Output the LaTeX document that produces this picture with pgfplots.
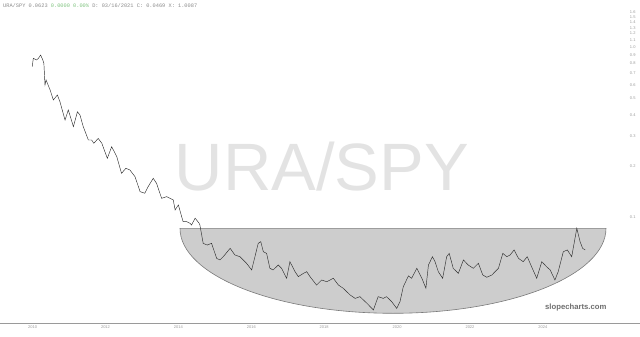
\documentclass[border=0pt]{standalone}
\usepackage{pgfplots}
\pgfplotsset{compat=1.18}
\usepackage{fontspec}
\setmainfont{Liberation Sans}
\setmonofont{Liberation Mono}
\definecolor{wm}{HTML}{E3E3E3}
\definecolor{bowlfill}{HTML}{CDCDCD}
\definecolor{bowledge}{HTML}{7A7A7A}
\definecolor{tick}{HTML}{9A9A9A}
\definecolor{hdr}{HTML}{8A8A8A}
\definecolor{hdrgreen}{HTML}{7DC27D}
\definecolor{brand}{HTML}{6E6E6E}
\definecolor{linec}{HTML}{2E2E2E}
\begin{document}
\begin{tikzpicture}[x=1pt,y=1pt]
% watermark
\node[text=wm, font=\fontsize{67}{67}\selectfont, inner sep=0pt] at (322,170) {URA/SPY};
\begin{axis}[
  at={(0pt,14pt)}, anchor=south west,
  scale only axis, width=640pt, height=323pt,
  xmin=2009.106, xmax=2026.664,
  ymode=log, ymin=0.02379, ymax=1.890,
  axis x line*=bottom, axis y line*=right,
  x axis line style={draw=tick, line width=0.8pt},
  y axis line style={draw=none},
  xtick={2010,2012,2014,2016,2018,2020,2022,2024},
  xticklabels={2010,2012,2014,2016,2018,2020,2022,2024},
  ytick={0.1,0.2,0.3,0.4,0.5,0.6,0.7,0.8,0.9,1.0,1.1,1.2,1.3,1.4,1.5,1.6},
  yticklabels={0.1,0.2,0.3,0.4,0.5,0.6,0.7,0.8,0.9,1.0,1.1,1.2,1.3,1.4,1.5,1.6},
  /pgf/number format/assume math mode=true,
  major tick length=0pt, minor tick num=0,
  log ticks with fixed point,
  xticklabel style={font=\fontsize{4}{4}\selectfont, text=tick, yshift=1pt},
  yticklabel style={font=\fontsize{4}{4}\selectfont, text=tick, anchor=east, xshift=-1pt},
  clip=true,
]
% rounded bowl annotation
\fill[bowlfill, draw=bowledge, line width=0.6pt]
  (axis cs:2014.044,0.0858) arc[start angle=180, end angle=360, x radius=213pt, y radius=85pt] -- cycle;
\addplot[linec, line width=0.45pt, mark=none] coordinates {
(2009.99,0.766) (2010.02,0.858) (2010.11,0.839) (2010.16,0.858) (2010.22,0.897)
(2010.28,0.839) (2010.31,0.802) (2010.34,0.598) (2010.37,0.640) (2010.48,0.559)
(2010.57,0.488) (2010.68,0.522) (2010.75,0.477) (2010.89,0.372) (2010.98,0.426)
(2011.12,0.340) (2011.23,0.416) (2011.30,0.398) (2011.39,0.340) (2011.53,0.2837)
(2011.62,0.2837) (2011.68,0.2713) (2011.80,0.290) (2011.90,0.2713) (2012.05,0.2214)
(2012.17,0.2592) (2012.31,0.2263) (2012.44,0.1807) (2012.56,0.1934) (2012.67,0.1890)
(2012.81,0.1726) (2012.95,0.1409) (2013.08,0.1379) (2013.17,0.1508) (2013.31,0.1689)
(2013.40,0.1579) (2013.54,0.1288) (2013.68,0.1317) (2013.86,0.1259) (2013.91,0.1100)
(2014.00,0.1177) (2014.09,0.1004) (2014.13,0.0938) (2014.23,0.0938) (2014.32,0.0918)
(2014.36,0.0897) (2014.46,0.0984) (2014.57,0.0918) (2014.59,0.0897) (2014.68,0.0700)
(2014.79,0.0684) (2014.91,0.0700) (2015.05,0.0571) (2015.14,0.0559) (2015.23,0.0584)
(2015.42,0.0654) (2015.55,0.0598) (2015.69,0.0584) (2015.87,0.0534) (2016.01,0.0488)
(2016.10,0.0584) (2016.19,0.0700) (2016.26,0.0716) (2016.33,0.0625) (2016.42,0.0611)
(2016.51,0.0499) (2016.60,0.0488) (2016.74,0.0522) (2016.83,0.0499) (2016.97,0.0436)
(2017.06,0.0546) (2017.20,0.0477) (2017.29,0.0446) (2017.43,0.0466) (2017.52,0.0477)
(2017.61,0.0446) (2017.79,0.0398) (2017.93,0.0426) (2018.07,0.0416) (2018.25,0.0436)
(2018.39,0.0398) (2018.52,0.0381) (2018.71,0.0348) (2018.85,0.0332) (2018.98,0.0340)
(2019.17,0.0311) (2019.35,0.0284) (2019.48,0.0340) (2019.62,0.0332) (2019.71,0.0340)
(2019.85,0.0318) (2019.99,0.0290) (2020.08,0.0318) (2020.17,0.0389) (2020.31,0.0450)
(2020.40,0.0436) (2020.54,0.0499) (2020.68,0.0436) (2020.79,0.0381) (2020.86,0.0522)
(2020.97,0.0584) (2021.04,0.0546) (2021.13,0.0477) (2021.25,0.0436) (2021.36,0.0584)
(2021.43,0.0611) (2021.54,0.0499) (2021.68,0.0466) (2021.82,0.0559) (2021.95,0.0522)
(2022.09,0.0499) (2022.23,0.0534) (2022.35,0.0456) (2022.46,0.0442) (2022.60,0.0456)
(2022.78,0.0499) (2022.90,0.0611) (2023.01,0.0584) (2023.10,0.0598) (2023.21,0.0640)
(2023.33,0.0571) (2023.46,0.0546) (2023.57,0.0584) (2023.69,0.0510) (2023.83,0.0436)
(2023.97,0.0546) (2024.10,0.0510) (2024.20,0.0488) (2024.33,0.0426) (2024.42,0.0477)
(2024.56,0.0625) (2024.67,0.0640) (2024.79,0.0584) (2024.93,0.0858) (2025.02,0.0716)
(2025.09,0.0654) (2025.16,0.0640)
};
\end{axis}
% header
\node[anchor=west, inner sep=0pt, font=\ttfamily\fontsize{5.3}{5.3}\selectfont, text=hdr] at (3,331.5)
  {URA/SPY 0.0623 \textcolor{hdrgreen}{0.0000 0.00\%} D: 03/16/2021 C: 0.0469 X: 1.0087};
% brand
\node[anchor=west, inner sep=0pt, font=\bfseries\fontsize{7.7}{7.7}\selectfont, text=brand] at (545,29) {slopecharts.com};
\pgfresetboundingbox
\useasboundingbox (0,0) rectangle (640,337);
\end{tikzpicture}
\end{document}
